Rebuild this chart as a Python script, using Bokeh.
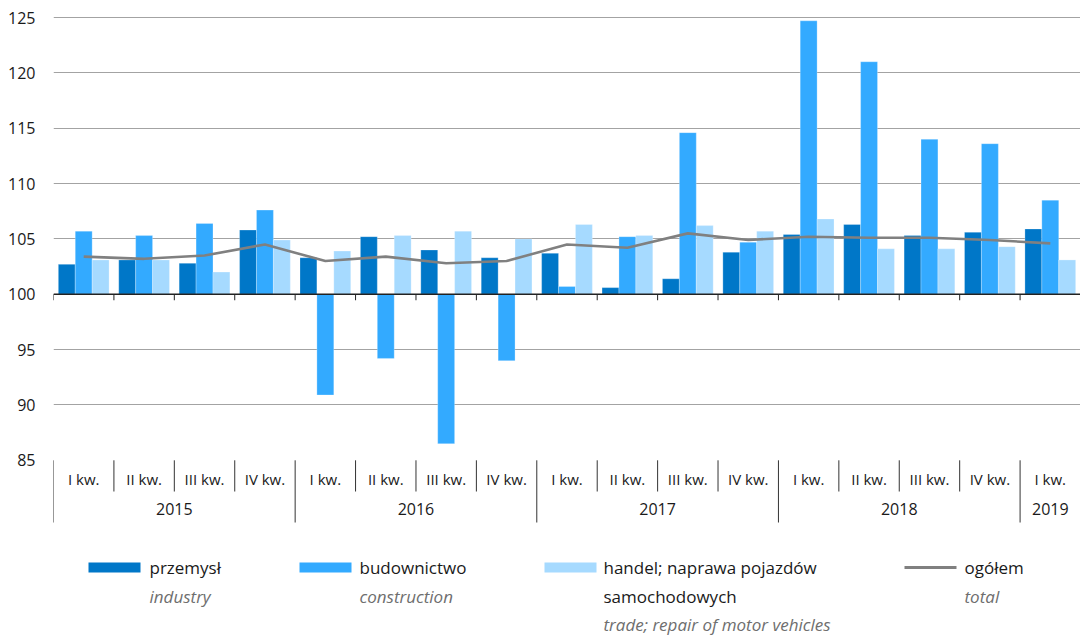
from bokeh.plotting import figure
from bokeh.models import Range1d, FixedTicker, Span, ColumnDataSource
from bokeh.layouts import column
from bokeh.transform import dodge
from bokeh.embed import file_html
from bokeh.resources import INLINE
from bokeh.core.properties import value

# ---------------- data ----------------
quarters = ["I kw.", "II kw.", "III kw.", "IV kw."] * 4 + ["I kw."]
years = ["2015", "2016", "2017", "2018", "2019"]
year_counts = [4, 4, 4, 4, 1]

industry = [102.7, 103.1, 102.8, 105.8, 103.3, 105.2, 104.0, 103.3,
            103.7, 100.6, 101.4, 103.8, 105.4, 106.3, 105.3, 105.6, 105.9]
construction = [105.7, 105.3, 106.4, 107.6, 90.9, 94.2, 86.5, 94.0,
                100.7, 105.2, 114.6, 104.7, 124.7, 121.0, 114.0, 113.6, 108.5]
trade = [103.1, 103.1, 102.0, 104.9, 103.9, 105.3, 105.7, 105.0,
         106.3, 105.3, 106.2, 105.7, 106.8, 104.1, 104.1, 104.3, 103.1]
total = [103.4, 103.2, 103.5, 104.5, 103.0, 103.4, 102.8, 103.0,
         104.5, 104.2, 105.5, 104.9, 105.2, 105.1, 105.1, 104.9, 104.6]

y_ticks = [85, 90, 95, 100, 105, 110, 115, 120, 125]
grid_ticks = [90, 95, 105, 110, 115, 120, 125]
baseline = 100

labels_pl = ["przemysł", "budownictwo", "handel; naprawa pojazdów", "ogółem"]
labels_pl2 = ["", "", "samochodowych", ""]
labels_en = ["industry", "construction", "trade; repair of motor vehicles", "total"]

# ---------------- style ----------------
FONT = "Open Sans"
C_IND = "#0077C8"
C_CON = "#33AAFF"
C_TRA = "#A6DAFF"
C_TOT = "#808080"
TXT = "#1a1a1a"
TXT_EN = "#6e6e6e"

W = 1080
LEFT = 53
TOP = 6
PX125 = 17         # pixel row (from figure top) of value 125
K = 11.07          # pixels per unit
FRAME_H = 524
MAIN_H = TOP + FRAME_H
LEG_H = 105

Y_TOP = 125 + (PX125 - TOP) / K
Y_BOT = Y_TOP - FRAME_H / K


def y_at(px):
    """value at a pixel row measured from figure top"""
    return Y_TOP - (px - TOP) / K


n = len(quarters)
xs = [i + 0.5 for i in range(n)]
src = ColumnDataSource(dict(x=xs, ind=industry, con=construction, tra=trade, tot=total,
                            base=[baseline] * n))

p = figure(width=W, height=MAIN_H, x_range=Range1d(0, n), y_range=Range1d(Y_BOT, Y_TOP),
           x_axis_location=None, y_axis_location="left", toolbar_location=None,
           output_backend="svg", min_border_left=LEFT, min_border_right=0,
           min_border_top=TOP, min_border_bottom=0, outline_line_color=None)

p.yaxis.ticker = FixedTicker(ticks=y_ticks)
p.yaxis.axis_line_color = None
p.yaxis.major_tick_line_color = None
p.yaxis.minor_tick_line_color = None
p.yaxis.major_tick_out = 0
p.yaxis.major_label_standoff = 18
p.yaxis.major_label_text_font = FONT
p.yaxis.major_label_text_font_size = "16px"
p.yaxis.major_label_text_color = TXT

p.xgrid.visible = False
p.ygrid.ticker = FixedTicker(ticks=grid_ticks)
p.ygrid.grid_line_color = "#a3a3a3"
p.ygrid.grid_line_width = 1.2

BW = 0.28
p.vbar(x=dodge("x", -BW, range=p.x_range), width=BW, bottom="base", top="ind", source=src,
       fill_color=C_IND, line_color="white", line_width=0.5, line_alpha=0.5)
p.vbar(x=dodge("x", 0, range=p.x_range), width=BW, bottom="base", top="con", source=src,
       fill_color=C_CON, line_color="white", line_width=0.5, line_alpha=0.5)
p.vbar(x=dodge("x", BW, range=p.x_range), width=BW, bottom="base", top="tra", source=src,
       fill_color=C_TRA, line_color="white", line_width=0.5, line_alpha=0.5)

p.add_layout(Span(location=baseline, dimension="width", line_color="#222222", line_width=1.5))
p.line("x", "tot", source=src, line_color=C_TOT, line_width=2.6)

# tick marks on the 100 line
bounds = list(range(n + 1))
p.segment(x0=bounds, x1=bounds, y0=[baseline] * len(bounds),
          y1=[baseline - 6 / K] * len(bounds), line_color="#222222", line_width=1)

# category axis box
year_starts = [sum(year_counts[:i]) for i in range(len(year_counts))] + [n]
q_bounds = [b for b in bounds if b not in year_starts]
p.segment(x0=q_bounds, x1=q_bounds, y0=[y_ticks[0]] * len(q_bounds),
          y1=[y_at(491)] * len(q_bounds), line_color="#333333", line_width=1)
p.segment(x0=year_starts, x1=year_starts, y0=[y_ticks[0]] * len(year_starts),
          y1=[y_at(522)] * len(year_starts), line_color="#333333", line_width=1)

p.text(x=xs, y=[y_at(478)] * n, text=quarters, text_font=value(FONT),
       text_font_size="15px", text_color=TXT, text_align="center", text_baseline="middle")
year_centers = [year_starts[i] + year_counts[i] / 2 for i in range(len(years))]
p.text(x=year_centers, y=[y_at(508)] * len(years), text=years, text_font=value(FONT),
       text_font_size="16px", text_color=TXT, text_align="center", text_baseline="middle")

# ---------------- legend ----------------
# the column aligns this figure's frame with the chart's frame (starting at LEFT)
lg = figure(width=W, height=LEG_H, x_range=Range1d(LEFT, W), y_range=Range1d(0, LEG_H),
            x_axis_location=None, y_axis_location=None, toolbar_location=None,
            output_backend="svg", min_border=0, min_border_left=LEFT,
            outline_line_color=None)
lg.grid.visible = False

rows = [LEG_H - (567 - MAIN_H), LEG_H - (596 - MAIN_H), LEG_H - (624 - MAIN_H)]
key_x = [88, 299, 544, 904]
key_w = 52
txt_x = [149, 359, 603, 964]
colors = [C_IND, C_CON, C_TRA]
for i in range(3):
    lg.rect(x=[key_x[i] + key_w / 2], y=[rows[0]], width=key_w, height=10,
            fill_color=colors[i], line_color=None)
lg.line(x=[key_x[3], key_x[3] + key_w], y=[rows[0], rows[0]], line_color=C_TOT, line_width=3)

lg.text(x=txt_x, y=[rows[0]] * 4, text=labels_pl, text_font=value(FONT),
        text_font_size="17px", text_color=TXT, text_baseline="middle")
en_y = [rows[1], rows[1], rows[2], rows[1]]
lg.text(x=txt_x, y=en_y, text=labels_en, text_font=value(FONT), text_font_style="italic",
        text_font_size="17px", text_color=TXT_EN, text_baseline="middle")
lg.text(x=[txt_x[2]], y=[rows[1]], text=[labels_pl2[2]], text_font=value(FONT),
        text_font_size="17px", text_color=TXT, text_baseline="middle")

layout = column(p, lg, spacing=0)
open("out.html", "w").write(file_html(layout, INLINE))
